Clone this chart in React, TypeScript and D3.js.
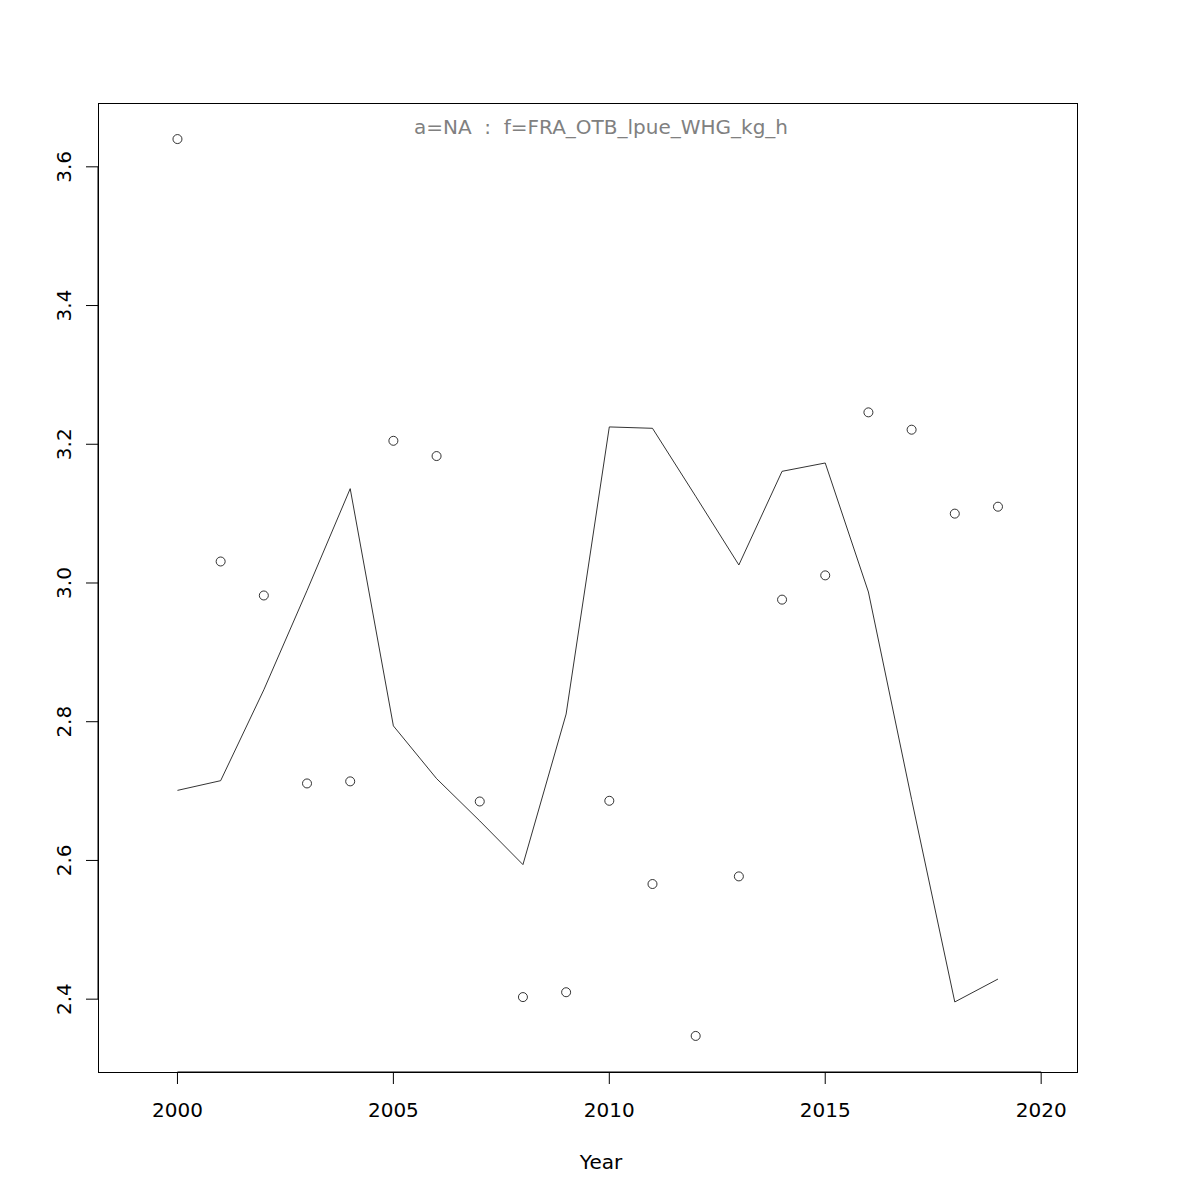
import * as React from "react";
import * as d3 from "d3";

const years = [
  2000, 2001, 2002, 2003, 2004, 2005, 2006, 2007, 2008, 2009, 2010, 2011,
  2012, 2013, 2014, 2015, 2016, 2017, 2018, 2019,
];
const observed = [
  3.64, 3.031, 2.982, 2.711, 2.714, 3.205, 3.183, 2.685, 2.403, 2.41, 2.686,
  2.566, 2.347, 2.577, 2.976, 3.011, 3.246, 3.221, 3.1, 3.11,
];
const fitted = [
  2.701, 2.715, 2.846, 2.989, 3.136, 2.794, 2.718, 2.657, 2.594, 2.811, 3.225,
  3.223, 3.125, 3.026, 3.161, 3.173, 2.987, 2.688, 2.396, 2.429,
];
const xTicks = [2000, 2005, 2010, 2015, 2020];
const yTicks = [2.4, 2.6, 2.8, 3.0, 3.2, 3.4, 3.6];
const title = "a=NA  :  f=FRA_OTB_lpue_WHG_kg_h";
const xLabel = "Year";

const width = 1200;
const height = 1200;
const box = { left: 98, right: 1077, top: 103, bottom: 1072 };
// R centres the title and axis label on the device width
const labelCentre = 601;

export default function App() {
  const xScale = d3
    .scaleLinear()
    .domain([1998.16, 2020.83])
    .range([box.left, box.right]);
  const yScale = d3
    .scaleLinear()
    .domain([2.295, 3.692])
    .range([box.bottom, box.top]);

  const pairs = years.map((y, i) => [y, fitted[i]] as [number, number]);
  const lineGenerator = d3
    .line<[number, number]>()
    .x((d) => xScale(d[0]))
    .y((d) => yScale(d[1]));

  const font = "DejaVu Sans, sans-serif";

  return (
    <svg
      width={width}
      height={height}
      style={{ position: "absolute", left: 0, top: 0, background: "white" }}
    >
      <rect x={0} y={0} width={width} height={height} fill="white" />
      <rect
        x={box.left}
        y={box.top}
        width={box.right - box.left}
        height={box.bottom - box.top}
        fill="none"
        stroke="black"
        strokeWidth={1}
        shapeRendering="crispEdges"
      />
      <path
        d={lineGenerator(pairs) ?? ""}
        fill="none"
        stroke="black"
        strokeWidth={0.8}
      />
      {years.map((y, i) => (
        <circle
          key={y}
          cx={xScale(y)}
          cy={yScale(observed[i])}
          r={4.5}
          fill="none"
          stroke="black"
          strokeWidth={0.8}
        />
      ))}
      <text
        x={labelCentre}
        y={134}
        textAnchor="middle"
        fontFamily={font}
        fontSize={20}
        fill="#808080"
        style={{ whiteSpace: "pre" }}
      >
        {title}
      </text>
      {/* x axis */}
      <g fontFamily={font} fontSize={20} textAnchor="middle">
        <line
          x1={xScale(2000)}
          x2={xScale(2020)}
          y1={box.bottom}
          y2={box.bottom}
          stroke="black"
        />
        {xTicks.map((t) => (
          <g key={t} transform={`translate(${xScale(t)},0)`}>
            <line y1={box.bottom} y2={box.bottom + 12} stroke="black" />
            <text y={1117}>{t}</text>
          </g>
        ))}
        <text x={labelCentre} y={1169}>
          {xLabel}
        </text>
      </g>
      {/* y axis */}
      <g fontFamily={font} fontSize={20} textAnchor="middle">
        <line
          x1={box.left}
          x2={box.left}
          y1={yScale(2.4)}
          y2={yScale(3.6)}
          stroke="black"
        />
        {yTicks.map((t) => (
          <g key={t} transform={`translate(0,${yScale(t)})`}>
            <line x1={box.left - 12} x2={box.left} stroke="black" />
            <text transform="translate(71,0) rotate(-90)">{t.toFixed(1)}</text>
          </g>
        ))}
      </g>
    </svg>
  );
}
